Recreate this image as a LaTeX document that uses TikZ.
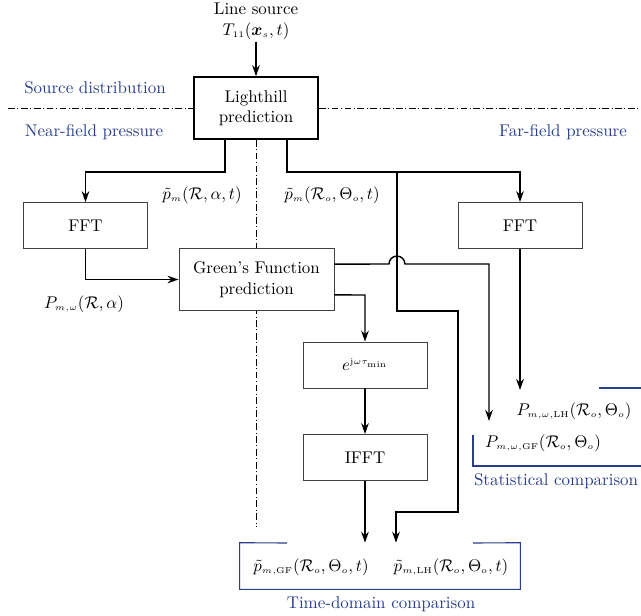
\documentclass[tikz,border=0pt]{standalone}
\usepackage{amsmath}
\DeclareMathSizes{10}{10}{5}{5}
\usetikzlibrary{arrows.meta,calc}
\definecolor{cblue}{RGB}{40,62,140}
\begin{document}
\begin{tikzpicture}[x=0.59pt,y=-0.59pt,
 box/.style={draw=black!75,line width=0.5pt,fill=white,minimum width=73.2pt,minimum height=27.1pt,inner sep=1pt,align=center},
 mainbox/.style={box,draw=black,line width=0.9pt,minimum height=36.6pt},
 conn/.style={line width=0.85pt,-{Stealth[length=6.5pt,width=4.5pt]}},
 sepline/.style={line width=0.55pt,dash pattern=on 4pt off 1.5pt on 0.6pt off 1.5pt},
 lbl/.style={inner sep=1pt},
 blab/.style={text=cblue,inner sep=1pt},
 bline/.style={draw=cblue,line width=0.65pt}]
\useasboundingbox (0,0) rectangle (641,615);

% separators
\coordinate (hl) at (8,108);
\coordinate (hr) at (641,108);
\coordinate (vb) at (256,527);

% nodes
\node[lbl,align=center] (src) at (256,21.5) {Line source\\$T_{11}(\boldsymbol{x}_s,t)$};
\node[mainbox] (lh) at (256,108) {Lighthill\\prediction};
\draw[sepline] (hl) -- (lh.west);
\draw[sepline] (lh.east) -- (hr);
\draw[sepline] (lh.south) -- (vb);

\node[blab] (srcd) at (95,88) {Source distribution};
\node[blab] (nfp) at (94,132) {Near-field pressure};
\node[blab] (ffp) at (563,132) {Far-field pressure};

\node[box] (fftL) at (85.5,225.5) {FFT};
\node[box] (fftR) at (520,225.5) {FFT};
\node[box,minimum width=91.5pt,minimum height=36.6pt] (gf) at (256.5,279.5) {Green's Function\\prediction};
\node[box] (ex) at (365,365) {$e^{\mathrm{j}\omega\tau_{\min}}$};
\node[box] (ifft) at (365,457.5) {IFFT};

\node[lbl] (pa) at (202,195) {$\tilde{p}_m(\mathcal{R},\alpha,t)$};
\node[lbl] (pb) at (332,195) {$\tilde{p}_m(\mathcal{R}_o,\Theta_o,t)$};
\node[lbl] (pw) at (84,304) {$P_{m,\omega}(\mathcal{R},\alpha)$};

\node[lbl] (plh) at (574,411) {$P_{m,\omega,\mathrm{LH}}(\mathcal{R}_o,\Theta_o)$};
\node[lbl] (pgf) at (543,443) {$P_{m,\omega,\mathrm{GF}}(\mathcal{R}_o,\Theta_o)$};
\node[blab,anchor=west] (stc) at (472,481) {Statistical comparison};

\node[minimum width=165.2pt,minimum height=27.1pt,inner sep=0pt] (td) at (380,566) {};
\node[lbl] (tgf) at (311,567) {$\tilde{p}_{m,\mathrm{GF}}(\mathcal{R}_o,\Theta_o,t)$};
\node[lbl] (tlh) at (451,567) {$\tilde{p}_{m,\mathrm{LH}}(\mathcal{R}_o,\Theta_o,t)$};
\node[blab] (tdc) at (381,604) {Time-domain comparison};

% brackets
\draw[bline] (599,388) -- (650,388);
\draw[bline] (473,435) -- (473,466) -- (650,466);
\draw[bline] (287,543) -- (td.north west) -- (td.south west) -- (td.south east) -- (td.north east) -- (473,543);

% connectors
\coordinate (j1) at (397,171);
\coordinate (c1) at (397,311);
\coordinate (c2) at (458,311);
\coordinate (c3) at (458,512);
\coordinate (c4) at (396,512);
\coordinate (s1) at (389,264);
\coordinate (s2) at (489,264);
\coordinate (gfend) at (489,421);
\coordinate (lhend) at (520,390);
\coordinate (e1) at (365,295);

\draw[conn] (src) -- (lh.north);
\draw[conn] ([xshift=-18.3pt]lh.south) -- ++(0,32) -| (fftL.north);
\draw[conn] ([xshift=18.3pt]lh.south) -- ++(0,32) -| (fftR.north);
\draw[conn] (j1) -- (c1) -- (c2) -- (c3) -- (c4) -- (c4 |- td.north);
\draw[conn] (fftL.south) |- (gf.west);
\draw[conn] ([yshift=9.1pt]gf.east) -- (s1) arc[start angle=180,end angle=0,radius=4.7pt] -- (s2) -- (gfend);
\draw[conn] ([yshift=-9.1pt]gf.east) -- (e1) -- (ex.north);
\draw[conn] (ex.south) -- (ifft.north);
\draw[conn] (ifft.south) -- (ifft.south |- td.north);
\draw[conn] (fftR.south) -- (lhend);
\end{tikzpicture}
\end{document}
